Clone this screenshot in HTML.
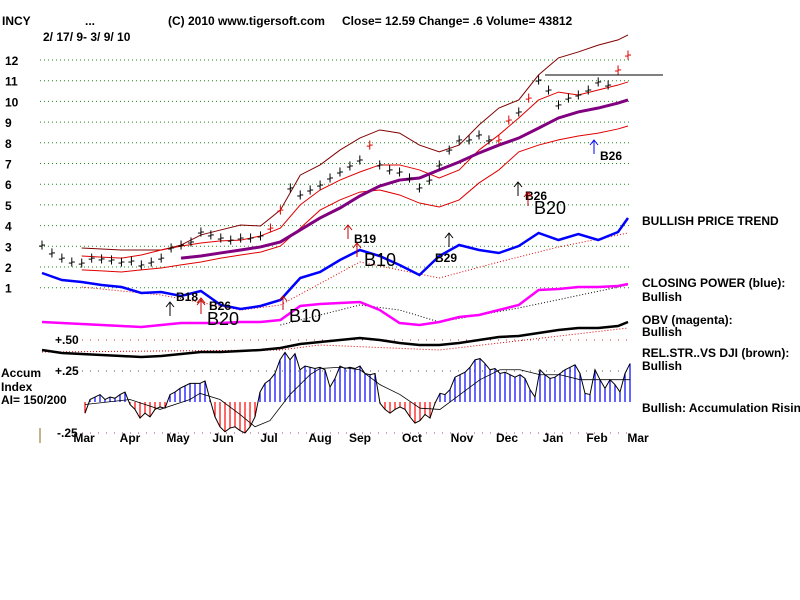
<!DOCTYPE html>
<html><head><meta charset="utf-8">
<style>
body{margin:0;background:#fff;}
svg{display:block;font-family:"Liberation Sans",sans-serif;}
.b{font-weight:bold;font-size:12px;fill:#000;}
</style></head>
<body>
<svg id="c" width="800" height="600" viewBox="0 0 800 600">
<rect width="800" height="600" fill="#fff"/>
<g class="b">
<text x="2" y="25">INCY</text>
<text x="85" y="25">...</text>
<text x="168" y="25">(C) 2010 www.tigersoft.com</text>
<text x="342" y="25">Close=  12.59   Change= .6  Volume= 43812</text>
<text x="43" y="41">2/ 17/ 9-  3/ 9/ 10</text>
</g>
<g class="b">
<text x="642" y="225">BULLISH PRICE TREND</text>
<text x="642" y="287">CLOSING POWER (blue):</text>
<text x="642" y="301">Bullish</text>
<text x="642" y="324">OBV (magenta):</text>
<text x="642" y="336">Bullish</text>
<text x="642" y="357">REL.STR..VS DJI (brown):</text>
<text x="642" y="370">Bullish</text>
<text x="642" y="412">Bullish: Accumulation Rising</text>
</g>
<g class="b">
<text x="1" y="377">Accum</text>
<text x="1" y="391">Index</text>
<text x="1" y="404">AI= 150/200</text>
<text x="55" y="344">+.50</text>
<text x="55" y="375">+.25</text>
<text x="57" y="437">-.25</text>
</g>
<line x1="40" y1="428" x2="40" y2="443" stroke="#8b6914" stroke-width="1"/>
<g id="grid"></g>
<g id="marks"></g>
<g id="sig"></g>
</svg>
<script>
const priceTicks=[12,11,10,9,8,7,6,5,4,3,2,1];
const months=["Mar","Apr","May","Jun","Jul","Aug","Sep","Oct","Nov","Dec","Jan","Feb","Mar"];
const monthX=[84,130,178,223,269,320,360,412,462,507,553,597,638];
const closes=[3.06,2.68,2.43,2.24,2.19,2.43,2.39,2.34,2.24,2.29,2.10,2.24,2.43,2.92,3.06,3.21,3.69,3.55,3.40,3.30,3.40,3.40,3.50,3.88,4.75,5.82,5.48,5.72,5.96,6.30,6.59,6.88,7.17,7.89,6.93,6.69,6.59,6.30,5.82,6.20,6.93,7.65,8.14,8.14,8.38,8.14,8.14,9.10,9.49,10.16,11.03,10.55,9.83,10.16,10.31,10.55,10.94,10.79,11.52,12.24];
const redBars=[23,24,33,46,47,49,58,59];
const bandIdx=[4,6,8,10,12,14,16,18,20,22,24,26,28,30,32,34,36,38,40,42,44,46,48,50,52,54,56,58,59];
const upperBand=[2.92,2.87,2.82,2.82,2.82,3.06,3.55,3.79,4.03,3.98,4.75,6.44,6.93,7.65,8.23,8.62,8.47,7.89,7.56,7.89,8.86,9.68,10.07,11.28,12.10,12.39,12.72,12.97,13.21];
const innerBand=[2.53,2.48,2.43,2.58,2.82,3.01,3.16,3.26,3.30,3.50,3.88,5.00,5.72,6.20,6.59,6.93,6.93,6.69,6.30,6.69,7.65,8.38,9.20,10.07,10.45,10.31,10.55,10.79,10.94];
const lowerBand=[1.86,1.81,1.76,1.86,1.95,2.10,2.24,2.43,2.58,2.72,3.01,3.88,4.75,5.24,5.62,5.72,5.48,5.09,4.90,5.24,6.06,6.69,7.56,7.89,8.14,8.33,8.47,8.67,8.81];
const maIdx=[14,16,18,20,22,24,26,28,30,32,34,36,38,40,42,44,46,48,50,52,54,56,58,59];
const maVals=[2.43,2.53,2.68,2.82,2.97,3.21,3.79,4.37,4.85,5.43,5.91,6.20,6.30,6.69,7.07,7.51,7.89,8.23,8.71,9.20,9.49,9.68,9.92,10.07];
const indIdx=[0,2,4,6,8,10,12,14,16,18,20,22,24,26,28,30,32,34,36,38,40,42,44,46,48,50,52,54,56,58,59];
const cpVals=[37,30,28,25,23,17,18,14,19,5,1,4,10,32,38,50,60,54,45,35,54,65,60,57,64,77,70,76,70,78,92];
const obvVals=[18,17,16,15,14,13,15,17,17,17,18,18,20,34,36,37,38,30,17,15,18,23,25,30,35,50,51,53,53,54,56];
const rsVals=[20,17,16,15,14,13,14,16,18,18,19,20,22,26,28,30,32,30,27,25,25,27,30,33,34,37,40,42,42,44,48];
const cpTrendIdx=[4,12,20,24,32,40,46,52,59];
const cpTrend=[23,15,0,5,48,32,48,63,77];
const obvTrendIdx=[24,32,36,40,48,59];
const obvTrend=[15,35,30,18,32,55];
const rsTrendIdx=[0,24,28,40,59];
const rsTrend=[18,20,25,20,42];
const aiVals=[-.09,.02,.04,.06,.02,.04,.03,.06,.08,-.02,-.06,-.13,-.09,-.12,-.06,-.04,-.05,.06,.08,.11,.13,.15,.15,.15,.17,.02,-.12,-.2,-.24,-.21,-.2,-.23,-.25,-.2,-.12,.08,.15,.18,.23,.34,.40,.34,.39,.26,.29,.28,.27,.28,.26,.12,.19,.29,.27,.28,.27,.29,.23,.22,.23,-.01,-.06,-.09,-.06,-.04,-.06,-.12,-.17,-.15,-.1,-.13,-.01,.07,.06,.1,.2,.22,.24,.28,.34,.35,.31,.26,.27,.23,.24,.22,.2,.22,.19,.1,.04,.26,.22,.19,.2,.23,.26,.28,.3,.23,.07,.06,.26,.18,.11,.18,.14,.08,.23,.31];
const aiMaX=[85,130,160,190,200,220,240,255,270,290,310,320,340,360,380,400,420,440,460,480,500,520,540,560,580,600,630];
const aiMa=[-.02,.02,-.06,.02,.07,.02,-.1,-.2,-.15,.06,.22,.27,.28,.26,.14,.06,-.05,-.06,.06,.18,.26,.26,.22,.22,.18,.18,.18];

const NS="http://www.w3.org/2000/svg";
const grid=document.getElementById('grid'),marks=document.getElementById('marks'),sig=document.getElementById('sig');
function el(p,t,a){const e=document.createElementNS(NS,t);for(const k in a)e.setAttribute(k,a[k]);p.appendChild(e);return e;}
const xi=i=>42+i*(586/59);
const py=p=>60+(12-p)*20.7;
const cpY=v=>310-v, obvY=v=>340-v, rsY=v=>370-v;
const aiY=v=>402-v*124;

priceTicks.forEach(t=>{
 const l=el(grid,'line',{x1:40,x2:632,y1:py(t),y2:py(t),stroke:'#1a8a1a','stroke-dasharray':'1 3'});
 
 
 const tx=el(grid,'text',{x:5,y:py(t)+5,class:'b'});tx.textContent=t;
 
 
});
[[340,'#b03030'],[371,'#555'],[433,'#c03080']].forEach((r,k)=>{
 const l=el(grid,'line',{x1:82,x2:632,y1:r[0],y2:r[0],stroke:r[1],'stroke-dasharray':'1 7'});
 
 
});
months.forEach((m,k)=>{
 const t=el(grid,'text',{x:monthX[k],y:442,class:'b','text-anchor':'middle'});t.textContent=m;
 
 
});
function line(xs,ys,st,name){
 const pts=xs.map((x,k)=>x+','+ys[k]).join(' ');
 const p=el(marks,'polyline',Object.assign({points:pts,fill:'none'},st));
 
 
}
line(bandIdx.map(xi),upperBand.map(py),{stroke:'#800000','stroke-width':1},'upper-band');
line(bandIdx.map(xi),innerBand.map(py),{stroke:'#e00000','stroke-width':1},'inner-band');
line(bandIdx.map(xi),lowerBand.map(py),{stroke:'#e00000','stroke-width':1},'lower-band');
line(maIdx.map(xi),maVals.map(py),{stroke:'#800080','stroke-width':3},'moving-average');
closes.forEach((c,i)=>{
 const x=xi(i),col=redBars.includes(i)?'#e00000':'#000';
 const g=el(marks,'g',{stroke:col,'stroke-width':1});
 
 
 el(g,'line',{x1:x,x2:x,y1:py(c+0.22),y2:py(c-0.22)});
 el(g,'line',{x1:x,x2:x+3,y1:py(c),y2:py(c)});
 el(g,'line',{x1:x-3,x2:x,y1:py(c-0.05),y2:py(c-0.05)});
});
const hl=el(marks,'line',{x1:545,x2:663,y1:75,y2:75,stroke:'#000'});


line(cpTrendIdx.map(xi),cpTrend.map(cpY),{stroke:'#e00000','stroke-dasharray':'1 2'},'cp-trend');
line(indIdx.map(xi),cpVals.map(cpY),{stroke:'#0000ff','stroke-width':2.5},'closing-power-line');
line(obvTrendIdx.map(xi),obvTrend.map(obvY),{stroke:'#000','stroke-dasharray':'1 2'},'obv-trend');
line(indIdx.map(xi),obvVals.map(obvY),{stroke:'#ff00ff','stroke-width':2.5},'obv-line');
line(rsTrendIdx.map(xi),rsTrend.map(rsY),{stroke:'#e00000','stroke-dasharray':'1 2'},'rs-trend');
line(indIdx.map(xi),rsVals.map(rsY),{stroke:'#000','stroke-width':2.5},'rel-strength-line');
const aiX=k=>85+k*5;
aiVals.forEach((v,k)=>{
 const b=el(marks,'line',{x1:aiX(k),x2:aiX(k),y1:402,y2:aiY(v),stroke:v>=0?'#0000ff':'#ff0000','stroke-width':1.2});
 
 
});
line(aiVals.map((v,k)=>aiX(k)),aiVals.map(aiY),{stroke:'#000','stroke-width':1},'ai-outline');
line(aiMaX,aiMa.map(aiY),{stroke:'#000','stroke-width':0.8},'ai-ma');

function signal(ax,ay,col,label,lx,ly,size,name){
 const g=el(sig,'g',{});
 
 
 el(g,'line',{x1:ax,x2:ax,y1:ay,y2:ay+14,stroke:col});
 el(g,'polyline',{points:(ax-4)+','+(ay+5)+' '+ax+','+ay+' '+(ax+4)+','+(ay+5),fill:'none',stroke:col});
 const t=el(g,'text',{x:lx,y:ly,'font-size':size,'font-weight':size>14?'normal':'bold'});t.textContent=label;
}
signal(348,225,'#c00000','B19',354,243,12,'signal-b19');
signal(357,243,'#c00000','B10',364,266,18,'signal-b10-sep');
signal(449,233,'#000','B29',435,262,12,'signal-b29');
signal(518,182,'#000','B26',525,200,12,'signal-b26-dec');
signal(528,192,'#c00000','B20',534,214,18,'signal-b20-dec');
signal(594,140,'#0000ff','B26',600,160,12,'signal-b26-feb');
signal(170,302,'#000','B18',176,301,12,'signal-b18');
signal(201,298,'#c00000','B26',209,310,12,'signal-b26-may');
signal(201,300,'#c00000','B20',207,325,18,'signal-b20-may');
signal(283,296,'#c00000','B10',289,322,18,'signal-b10-jul');
</script>
</body></html>
